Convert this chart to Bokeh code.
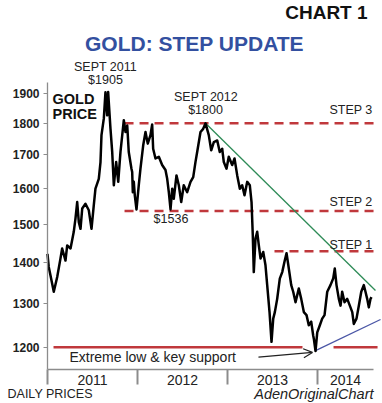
from bokeh.plotting import figure
from bokeh.models import (Range1d, FixedTicker, Label, Arrow, OpenHead, LinearAxis)
from bokeh.embed import file_html
from bokeh.resources import INLINE

# ---------------- data ----------------
years = [2011.000, 2011.014, 2011.033, 2011.070, 2011.108, 2011.144, 2011.163, 2011.200,
         2011.219, 2011.256, 2011.292, 2011.311, 2011.330, 2011.348, 2011.367, 2011.386,
         2011.422, 2011.459, 2011.489, 2011.514, 2011.533, 2011.570, 2011.589, 2011.600,
         2011.626, 2011.644, 2011.663, 2011.674, 2011.700, 2011.719, 2011.737, 2011.763,
         2011.786, 2011.811, 2011.848, 2011.867, 2011.886, 2011.903, 2011.933, 2011.941,
         2011.948, 2011.959, 2011.970, 2011.989, 2012.014, 2012.033, 2012.063, 2012.089,
         2012.114, 2012.144, 2012.163, 2012.174, 2012.200, 2012.237, 2012.274, 2012.311,
         2012.330, 2012.348, 2012.367, 2012.386, 2012.403, 2012.433, 2012.459, 2012.486,
         2012.514, 2012.552, 2012.589, 2012.619, 2012.644, 2012.663, 2012.700, 2012.730,
         2012.756, 2012.792, 2012.819, 2012.848, 2012.886, 2012.914, 2012.941, 2012.959,
         2012.989, 2013.014, 2013.052, 2013.078, 2013.108, 2013.137, 2013.163, 2013.189,
         2013.219, 2013.248, 2013.267, 2013.281, 2013.292, 2013.311, 2013.330, 2013.348,
         2013.367, 2013.397, 2013.422, 2013.441, 2013.467, 2013.489, 2013.508, 2013.526,
         2013.552, 2013.581, 2013.608, 2013.633, 2013.656, 2013.681, 2013.708, 2013.730,
         2013.756, 2013.792, 2013.819, 2013.848, 2013.878, 2013.903, 2013.930, 2013.952,
         2013.959, 2013.978, 2013.997, 2014.026, 2014.052, 2014.078, 2014.108, 2014.144,
         2014.174, 2014.192, 2014.211, 2014.237, 2014.256, 2014.274, 2014.300, 2014.330,
         2014.359, 2014.386, 2014.403, 2014.433, 2014.459, 2014.486, 2014.514, 2014.533,
         2014.552, 2014.570, 2014.589, 2014.600]
prices = [1421, 1388, 1367, 1327, 1363, 1409, 1435, 1404,
          1443, 1435, 1479, 1515, 1561, 1505, 1487, 1543,
          1556, 1538, 1487, 1551, 1599, 1628, 1678, 1762,
          1816, 1904, 1826, 1905, 1782, 1709, 1609, 1678,
          1619, 1709, 1810, 1772, 1793, 1709, 1658, 1648,
          1589, 1619, 1580, 1540, 1609, 1658, 1729, 1772,
          1735, 1762, 1796, 1719, 1689, 1694, 1669, 1654,
          1628, 1589, 1540, 1599, 1570, 1638, 1609, 1561,
          1609, 1589, 1619, 1633, 1678, 1709, 1772, 1782,
          1800, 1762, 1714, 1740, 1745, 1709, 1719, 1678,
          1658, 1694, 1669, 1689, 1638, 1599, 1609, 1580,
          1619, 1609, 1561, 1470, 1375, 1461, 1479, 1443,
          1409, 1426, 1392, 1343, 1279, 1212, 1264, 1279,
          1310, 1359, 1375, 1401, 1423, 1384, 1343, 1327,
          1302, 1335, 1310, 1279, 1272, 1249, 1257, 1226,
          1219, 1192, 1233, 1249, 1264, 1272, 1327, 1343,
          1359, 1384, 1343, 1310, 1294, 1327, 1302, 1310,
          1294, 1279, 1252, 1264, 1294, 1327, 1343, 1327,
          1310, 1290, 1310, 1314]

y_ticks = [1200, 1300, 1400, 1500, 1600, 1700, 1800, 1900]
year_labels = ["2011", "2012", "2013", "2014"]
year_mids = [2011.5, 2012.5, 2013.5, 2014.311]
year_bounds = [2011, 2012, 2013, 2014]

step_levels = [1800, 1536, 1428]
step_names = ["STEP 3", "STEP 2", "STEP 1"]
step_starts = [2011.856, 2011.856, 2013.522]
step_end = 2014.667
support_level = 1200
support_x0 = [2011.067, 2014.178]
support_x1 = [2013.833, 2014.667]
down_trend_x = [2012.756, 2014.644]
down_trend_y = [1800, 1330]
up_trend_x = [2013.978, 2014.700]
up_trend_y = [1193, 1262]

# axis extents
AX_X0, AX_X1 = 2011.0, 2014.622
AX_Y0, AX_Y1 = 1153, 1938

FONT = "Liberation Sans"
RED = "#c0383c"
GRAY = "#8c8c8c"

p = figure(width=382, height=403, output_backend="svg", toolbar_location=None,
           y_axis_type="log", x_axis_location=None, x_range=Range1d(2010.478, 2014.722),
           y_range=Range1d(1084, 2248),
           min_border_left=0, min_border_right=0, min_border_top=0, min_border_bottom=0)
p.outline_line_color = None
p.xgrid.visible = False
p.ygrid.visible = False
p.background_fill_color = "white"
p.border_fill_color = "white"

# y axis
yax = p.yaxis[0]
yax.fixed_location = AX_X0
yax.bounds = (AX_Y0, AX_Y1)
yax.ticker = FixedTicker(ticks=y_ticks, minor_ticks=[])
yax.major_label_overrides = {v: str(v) for v in y_ticks}
yax.major_label_text_font = FONT
yax.major_label_text_font_style = "bold"
yax.major_label_text_font_size = "12px"
yax.major_label_text_color = "#222222"
yax.axis_line_color = GRAY
yax.axis_line_width = 1.3
yax.major_tick_line_color = GRAY
yax.major_tick_out = 4
yax.major_tick_in = 0
yax.major_label_standoff = 4

# x axis: separators at year boundaries (axis line + long ticks, no labels)
xsep = LinearAxis(fixed_location=AX_Y0, bounds=(AX_X0, AX_X1),
                  ticker=FixedTicker(ticks=year_bounds, minor_ticks=[]),
                  major_label_overrides={b: "" for b in year_bounds},
                  axis_line_color=GRAY, axis_line_width=1.3,
                  major_tick_line_color=GRAY,
                  major_tick_line_width=2, major_tick_out=15, major_tick_in=0)
p.add_layout(xsep, "below")
# x axis: year names centred between separators
xlab = LinearAxis(fixed_location=AX_Y0, bounds=(AX_X0, AX_X1),
                  ticker=FixedTicker(ticks=year_mids, minor_ticks=[]),
                  major_label_overrides={m: l for m, l in zip(year_mids, year_labels)},
                  major_label_text_font=FONT, major_label_text_font_size="14px",
                  major_label_text_color="#222222", major_label_standoff=6,
                  axis_line_color=None, major_tick_line_color=None,
                  major_tick_out=0, major_tick_in=0)
p.add_layout(xlab, "below")

# reference lines
for lvl, x0 in zip(step_levels, step_starts):
    p.line([x0, step_end], [lvl, lvl], line_color=RED, line_width=2.5, line_dash="9 6")
for a, b in zip(support_x0, support_x1):
    p.line([a, b], [support_level, support_level], line_color=RED, line_width=2.5)
p.line(down_trend_x, down_trend_y, line_color="#2e8b57", line_width=1.3)
p.line(up_trend_x, up_trend_y, line_color="#4a56a6", line_width=1.3)

# price
p.line(years, prices, line_color="black", line_width=2.5, line_join="round")

def lab(x, y, t, size="12.5px", align="center", style="normal", color="#222222"):
    p.add_layout(Label(x=x, y=y, text=t, text_font=FONT, text_font_size=size,
                       text_align=align, text_baseline="middle", text_font_style=style,
                       text_color=color))

lab(2014.556, 2200, "CHART 1", size="19px", align="right", style="bold", color="#111111")
lab(2012.633, 2080, "GOLD: STEP UPDATE", size="21px", style="bold", color="#3350a0")
lab(2011.644, 1992, "SEPT 2011")
lab(2011.644, 1945, "$1905")
lab(2012.761, 1888, "SEPT 2012")
lab(2012.756, 1843, "$1800")
lab(2011.056, 1880, "GOLD", size="14.5px", align="left", style="bold", color="#111111")
lab(2011.056, 1829, "PRICE", size="14.5px", align="left", style="bold", color="#111111")
for lvl_y, name in zip([1843, 1561, 1443], step_names):
    lab(2014.611, lvl_y, name, align="right")
lab(2012.372, 1515, "$1536")
lab(2011.244, 1179, "Extreme low & key support", size="14px", align="left")
lab(2010.556, 1102, "DAILY PRICES", align="left")
lab(2014.622, 1102, "AdenOriginalChart", size="14.5px", align="right", style="italic")

p.add_layout(Arrow(end=OpenHead(size=9, line_width=1.2, line_color="#222222"),
                   x_start=2013.344, y_start=1179, x_end=2013.944, y_end=1189,
                   line_width=1.2, line_color="#222222"))

open("out.html", "w").write(file_html(p, INLINE))
